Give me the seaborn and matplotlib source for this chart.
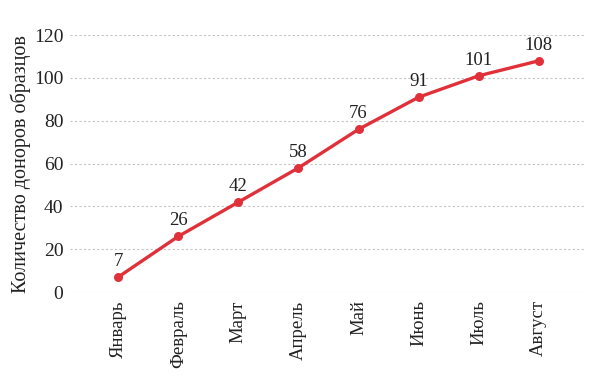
import matplotlib
matplotlib.use("Agg")
import matplotlib.pyplot as plt
import seaborn as sns
import pandas as pd

months = ['Январь', 'Февраль', 'Март', 'Апрель', 'Май', 'Июнь', 'Июль', 'Август']
donors = [7, 26, 42, 58, 76, 91, 101, 108]
y_ticks = [0, 20, 40, 60, 80, 100, 120]

sns.set_theme(style='white')
plt.rcParams['font.family'] = ['Liberation Serif', 'DejaVu Serif']

df = pd.DataFrame({'month': months, 'donors': donors})
df['pos'] = range(len(df))

fig = plt.figure(figsize=(6, 3.86), dpi=100)
ax = fig.add_axes([0.117, 0.2435, 0.858, 0.6655])

sns.lineplot(data=df, x='pos', y='donors', ax=ax, color='#e0313b',
             linewidth=2.4, marker='o', markersize=6.5, markeredgewidth=0,
             clip_on=False)

for x, y in zip(df['pos'], df['donors']):
    ax.annotate(str(y), (x, y), xytext=(0, 5), textcoords='offset points',
                ha='center', va='bottom', fontsize=13.5, color='#222222')

ax.set_xlim(-0.8, 7.77)
ax.set_ylim(0, 120)
ax.set_yticks(y_ticks)
ax.set_xticks(df['pos'])
ax.set_xticklabels(months, rotation=90, fontsize=13.5, color='#222222')
ax.tick_params(axis='y', labelsize=14, labelcolor='#222222', length=0, pad=5)
ax.tick_params(axis='x', length=0, pad=6)
ax.set_xlabel('')
ax.set_ylabel('Количество доноров образцов', fontsize=14.5, color='#222222',
              labelpad=2)
ax.yaxis.grid(True, linestyle=(0, (2, 2)), color='#c4c4c4', linewidth=0.8)
ax.set_axisbelow(True)
sns.despine(ax=ax, left=True, bottom=True)

fig.savefig('out.png', dpi=100)
